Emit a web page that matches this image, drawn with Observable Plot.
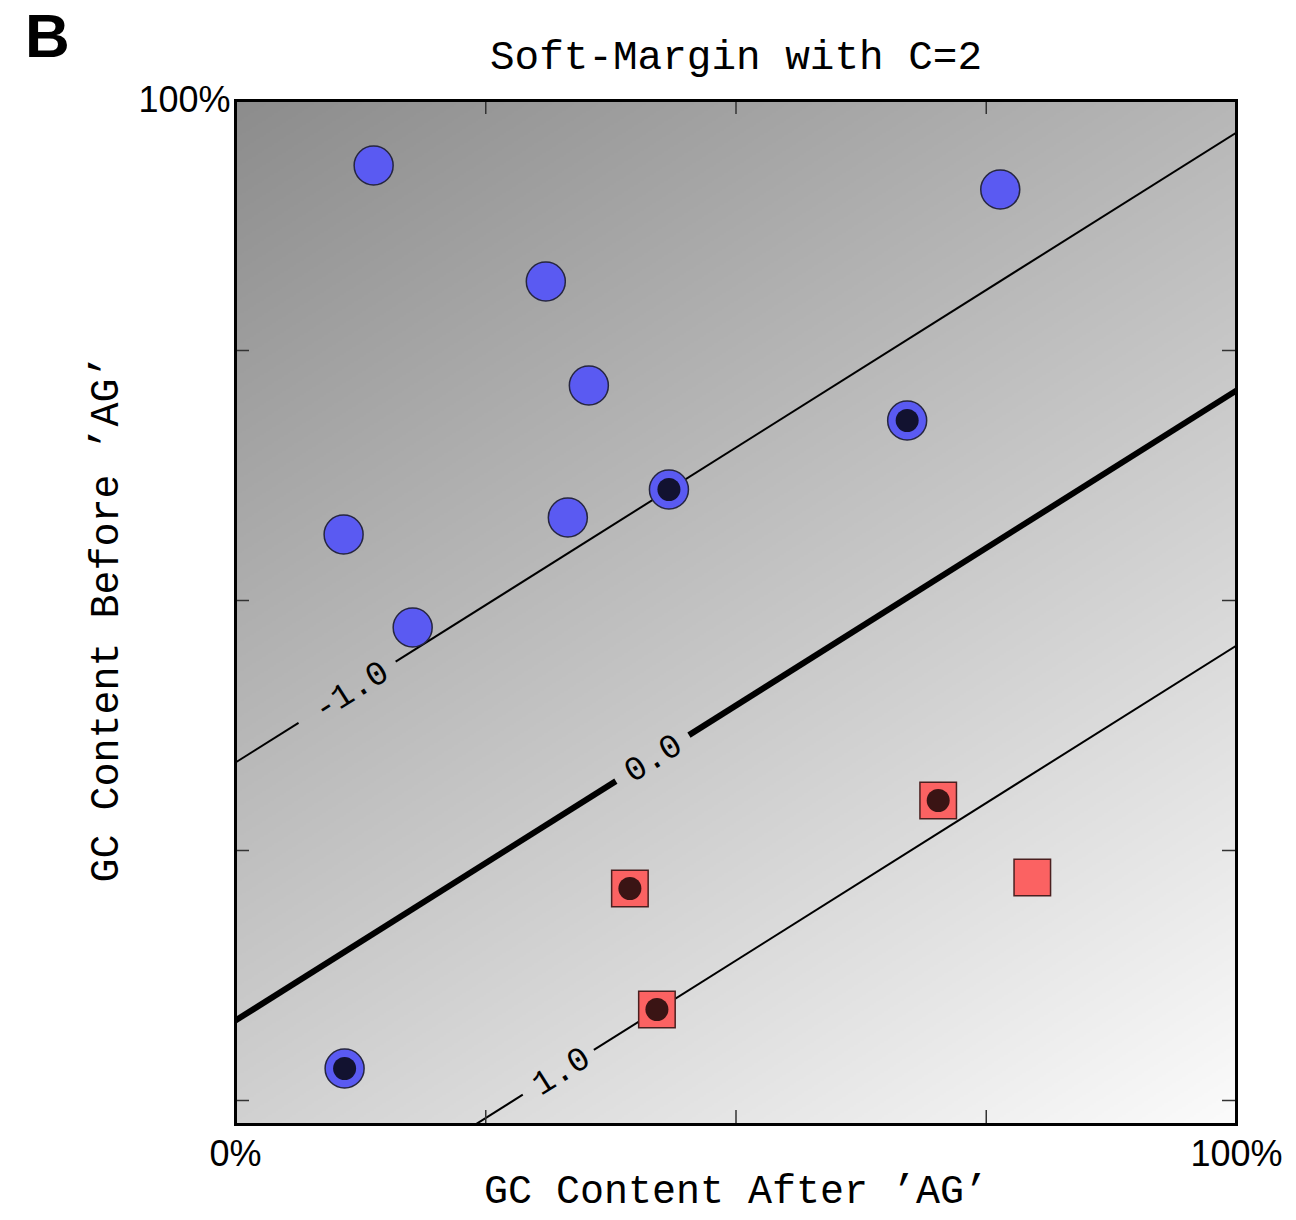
<!DOCTYPE html>
<html>
<head>
<meta charset="utf-8">
<script src="https://cdn.jsdelivr.net/npm/d3@7"></script>
<script src="https://cdn.jsdelivr.net/npm/@observablehq/plot@0.6"></script>
<style>
  html, body { margin: 0; padding: 0; background: #fff; }
  #chart { width: 1296px; height: 1220px; }
</style>
</head>
<body>
<div id="chart"></div>
<script>
// ---- data ----
const blueX  = [0.138, 0.764, 0.310, 0.353, 0.671, 0.433, 0.108, 0.332, 0.177, 0.109];
const blueY  = [0.935, 0.911, 0.819, 0.715, 0.680, 0.611, 0.566, 0.583, 0.473, 0.032];
const blueSV = [false, false, false, false, true, true, false, false, false, true];

const redX  = [0.702, 0.394, 0.421, 0.796];
const redY  = [0.300, 0.212, 0.091, 0.223];
const redSV = [true, true, true, false];

// decision-function contour lines: y = slope * x + intercept
const levels      = [-1.0, 0.0, 1.0];
const levelLabels = ["-1.0", "0.0", "1.0"];
const intercepts  = [0.338, 0.080, -0.175];
const slope       = 0.63;
const gapStart    = [0.063, 0.380, 0.287];
const gapEnd      = [0.160, 0.453, 0.358];
const labelX      = [0.115, 0.417, 0.325];
const lineWidths  = [2, 6, 2];

const xTicks = [0.25, 0.5, 0.75];
const yTicks = [0, 0.25, 0.5, 0.75];
const xLabelTicks = [0, 1];
const yLabelTicks = [1];

const xDomain = [0, 1];
const yDomain = [-0.024, 1];

// ---- derived tables ----
const blue = blueX.map((x, i) => ({x, y: blueY[i], sv: blueSV[i]}));
const red  = redX.map((x, i) => ({x, y: redY[i], sv: redSV[i]}));
const lineY = (i, x) => slope * x + intercepts[i];
const segs = [];
levels.forEach((lv, i) => {
  segs.push({i, x1: xDomain[0], x2: gapStart[i]});
  segs.push({i, x1: gapEnd[i], x2: xDomain[1]});
});
segs.forEach(s => { s.y1 = lineY(s.i, s.x1); s.y2 = lineY(s.i, s.x2); s.w = lineWidths[s.i]; });
const labels = levels.map((lv, i) => ({x: labelX[i], y: lineY(i, labelX[i]), t: levelLabels[i]}));

// decision value interpolated from the level lines (unit spacing between levels)
const spacing = (intercepts[0] - intercepts[2]) / (levels[2] - levels[0]);
const fval = (x, y) => (slope * x + intercepts[1] - y) / spacing;
const fmin = fval(xDomain[0], yDomain[1]);
const fmax = fval(xDomain[1], yDomain[0]);
const angle = -Math.atan(slope) * 180 / Math.PI;

const mono = "Liberation Mono";
const sans = "Liberation Sans";

const chart = Plot.plot({
  width: 1296,
  height: 1220,
  marginLeft: 235,
  marginRight: 60,
  marginTop: 100,
  marginBottom: 96,
  x: {domain: xDomain, axis: null},
  y: {domain: yDomain, axis: null},
  color: {type: "linear", domain: [fmin, fmax], range: ["#8c8c8c", "#fbfbfb"], interpolate: "rgb"},
  style: {background: "white"},
  marks: [
    Plot.raster({x1: xDomain[0], x2: xDomain[1], y1: yDomain[0], y2: yDomain[1], fill: fval, pixelSize: 2}),
    Plot.link(segs, {x1: "x1", y1: "y1", x2: "x2", y2: "y2", stroke: "black", strokeWidth: "w", clip: true}),
    Plot.text(labels, {x: "x", y: "y", text: "t", rotate: angle, fontFamily: mono, fontSize: 34, fill: "black"}),
    Plot.dot(blue, {x: "x", y: "y", r: 19.5, fill: "#5a5af2", stroke: "#262640", strokeWidth: 1.5}),
    Plot.dot(blue.filter(d => d.sv), {x: "x", y: "y", r: 11.5, fill: "#121230"}),
    Plot.dot(red, {x: "x", y: "y", symbol: "square", r: 20.6, fill: "#fb6262", stroke: "#4a2020", strokeWidth: 1.5}),
    Plot.dot(red.filter(d => d.sv), {x: "x", y: "y", r: 11.5, fill: "#3a1414"}),
    Plot.tickX(xTicks, {x: d => d, insetTop: 1010, stroke: "#333", strokeWidth: 1.5}),
    Plot.tickX(xTicks, {x: d => d, insetBottom: 1010, stroke: "#333", strokeWidth: 1.5}),
    Plot.tickY(yTicks, {y: d => d, insetRight: 987, stroke: "#333", strokeWidth: 1.5}),
    Plot.tickY(yTicks, {y: d => d, insetLeft: 987, stroke: "#333", strokeWidth: 1.5}),
    Plot.frame({stroke: "black", strokeWidth: 3}),
    Plot.axisX({ticks: xLabelTicks, tickFormat: d => `${d * 100}%`, tickSize: 0, tickPadding: 16, label: null,
                fontSize: 36, fontFamily: sans, anchor: "bottom"}),
    Plot.axisY({ticks: yLabelTicks, tickFormat: d => `${d * 100}%`, tickSize: 0, tickPadding: 5, label: null,
                fontSize: 36, fontFamily: sans, anchor: "left"}),
    Plot.text(["Soft-Margin with C=2"], {frameAnchor: "top", dy: -45, lineAnchor: "middle", fontFamily: mono, fontSize: 41, fill: "black"}),
    Plot.text(["GC Content After ’AG’"], {frameAnchor: "bottom", dy: 66, lineAnchor: "middle", fontFamily: mono, fontSize: 40, fill: "black"}),
    Plot.text(["GC Content Before ’AG’"], {frameAnchor: "left", dx: -130, dy: 6, rotate: -90, textAnchor: "middle", lineAnchor: "middle", fontFamily: mono, fontSize: 40, fill: "black"}),
    Plot.text(["B"], {frameAnchor: "top-left", dx: -188, dy: -63, lineAnchor: "middle", textAnchor: "middle", fontFamily: sans, fontWeight: "bold", fontSize: 62, fill: "black"})
  ]
});
document.getElementById("chart").appendChild(chart);
</script>
</body>
</html>
